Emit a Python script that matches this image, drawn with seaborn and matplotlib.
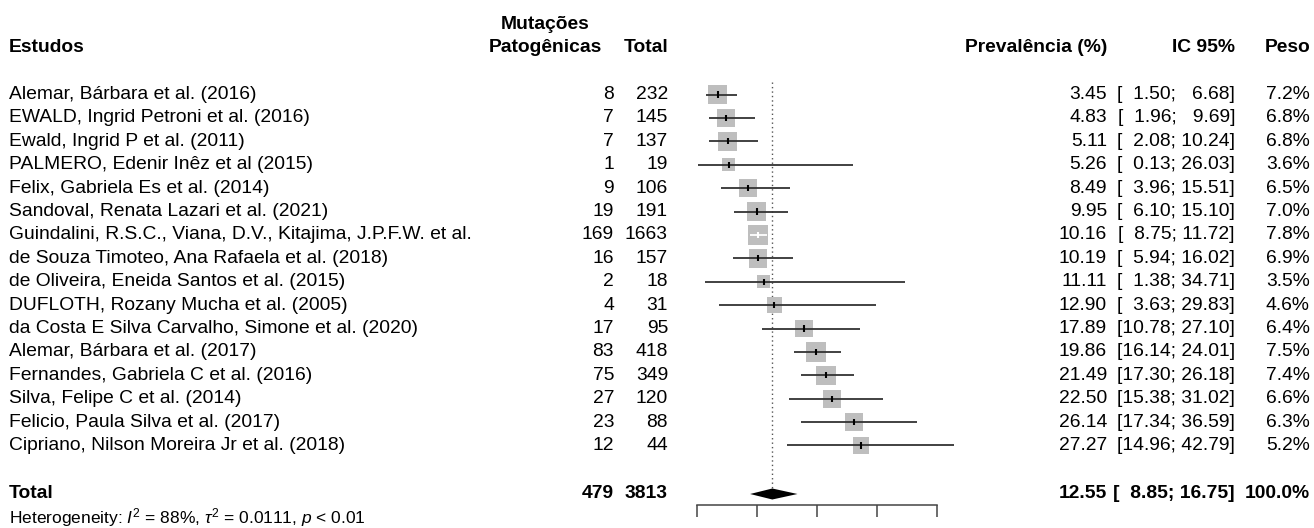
import matplotlib
matplotlib.use('Agg')
import matplotlib.pyplot as plt
import numpy as np
import seaborn as sns
from matplotlib.transforms import blended_transform_factory

# dados do forest plot
studies = [
    "Alemar, Bárbara et al. (2016)",
    "EWALD, Ingrid Petroni et al. (2016)",
    "Ewald, Ingrid P et al. (2011)",
    "PALMERO, Edenir Inêz et al (2015)",
    "Felix, Gabriela Es et al. (2014)",
    "Sandoval, Renata Lazari et al. (2021)",
    "Guindalini, R.S.C., Viana, D.V., Kitajima, J.P.F.W. et al.",
    "de Souza Timoteo, Ana Rafaela et al. (2018)",
    "de Oliveira, Eneida Santos et al. (2015)",
    "DUFLOTH, Rozany Mucha et al. (2005)",
    "da Costa E Silva Carvalho, Simone et al. (2020)",
    "Alemar, Bárbara et al. (2017)",
    "Fernandes, Gabriela C et al. (2016)",
    "Silva, Felipe C et al. (2014)",
    "Felicio, Paula Silva et al. (2017)",
    "Cipriano, Nilson Moreira Jr et al. (2018)",
]
events = [8, 7, 7, 1, 9, 19, 169, 16, 2, 4, 17, 83, 75, 27, 23, 12]
totals = [232, 145, 137, 19, 106, 191, 1663, 157, 18, 31, 95, 418, 349, 120, 88, 44]
prev = [3.45, 4.83, 5.11, 5.26, 8.49, 9.95, 10.16, 10.19, 11.11, 12.90,
        17.89, 19.86, 21.49, 22.50, 26.14, 27.27]
ci_low = [1.50, 1.96, 2.08, 0.13, 3.96, 6.10, 8.75, 5.94, 1.38, 3.63,
          10.78, 16.14, 17.30, 15.38, 17.34, 14.96]
ci_high = [6.68, 9.69, 10.24, 26.03, 15.51, 15.10, 11.72, 16.02, 34.71, 29.83,
           27.10, 24.01, 26.18, 31.02, 36.59, 42.79]
weights = [7.2, 6.8, 6.8, 3.6, 6.5, 7.0, 7.8, 6.9, 3.5, 4.6, 6.4, 7.5, 7.4, 6.6, 6.3, 5.2]

total_events = 479
total_n = 3813
pooled = 12.55
pooled_low = 8.85
pooled_high = 16.75
x_ticks = [0, 10, 20, 30, 40]
het_text = r"Heterogeneity: $I^2$ = 88%, $\tau^2$ = 0.0111, $p$ < 0.01"

# layout em pixels
W, H = 1314, 528
X0 = 697.0      # pixel do valor 0
PX_PER = 6.0    # pixels por unidade (%)
ROW0 = 94.5     # pixel do primeiro estudo
ROW_H = 23.4
FS = 13.9
SQ = 26.06      # area do quadrado (pt^2) por % de peso


def ypos(px):
    return (px - ROW0) / ROW_H


def fmt_num(v, width):
    s = "%*.2f" % (width, v)
    n = len(s) - len(s.lstrip())
    return "  " * n + s.lstrip()


def fmt_ci(lo, hi):
    return "[%s; %s]" % (fmt_num(lo, 5), fmt_num(hi, 5))


sns.set_theme(style="white")
plt.rcParams['font.family'] = ['Liberation Sans', 'DejaVu Sans']
plt.rcParams['mathtext.fontset'] = 'custom'
plt.rcParams['mathtext.rm'] = 'Liberation Sans'
plt.rcParams['mathtext.it'] = 'Liberation Sans:italic'
plt.rcParams['mathtext.bf'] = 'Liberation Sans:bold'

fig = plt.figure(figsize=(W / 100, H / 100), dpi=100)
ax = fig.add_axes([0, 0, 1, 1])

rows = np.arange(len(studies))
prev_a = np.array(prev)
lo_a = np.array(ci_low)
hi_a = np.array(ci_high)
w_a = np.array(weights)

# CI dentro do quadrado -> branco
half_sq = np.sqrt(SQ * w_a) * (100 / 72) / PX_PER / 2
inside = (lo_a >= prev_a - half_sq) & (hi_a <= prev_a + half_sq)
line_cols = np.where(inside, 'white', '#333333')

# quadrados
sns.scatterplot(x=prev_a, y=rows, size=w_a, sizes=(SQ * w_a.min(), SQ * w_a.max()),
                marker='s', color='#bebebe', linewidth=0, legend=False, ax=ax, zorder=2)
ax.hlines(rows, lo_a, hi_a, colors=line_cols, linewidth=1.3, zorder=3)
ax.vlines(prev_a, rows - 0.13, rows + 0.13, colors=np.where(inside, 'white', 'black'),
          linewidth=1.5, zorder=4)

# linha do efeito combinado e diamante
total_row = ypos(494)
d_half = 5.5 / ROW_H
ax.vlines(pooled, ypos(82), total_row - d_half, colors='#555555', linewidth=1,
          linestyles=(0, (1, 2.2)), zorder=1)
ax.fill([pooled_low, pooled, pooled_high, pooled],
        [total_row, total_row - d_half, total_row, total_row + d_half],
        color='black', linewidth=0, zorder=3)

ax.set_xlim(-X0 / PX_PER, (W - X0) / PX_PER)
ax.set_ylim(H / ROW_H - ROW0 / ROW_H, -ROW0 / ROW_H)
ax.set_xlabel('')
ax.set_ylabel('')

# eixo x
for s in ['top', 'left', 'right']:
    ax.spines[s].set_visible(False)
ax.spines['bottom'].set_position(('data', ypos(505)))
ax.spines['bottom'].set_bounds(x_ticks[0], x_ticks[-1])
ax.spines['bottom'].set_color('#444444')
ax.spines['bottom'].set_linewidth(1.1)
ax.set_xticks(x_ticks)
ax.set_xticklabels([])
ax.set_yticks([])
ax.tick_params(axis='x', bottom=True, direction='out', length=8.6, width=1.1, color='#444444')

# textos
tr = blended_transform_factory(fig.transFigure, ax.transData)


def col_text(px, y, s, ha, bold=False, fs=FS):
    ax.text(px / W, y, s, transform=tr, ha=ha, va='center', fontsize=fs,
            fontweight='bold' if bold else 'normal', color='black')


hy = ypos(47)
col_text(9, hy, "Estudos", 'left', True)
col_text(545, ypos(24), "Mutações", 'center', True)
col_text(545, hy, "Patogênicas", 'center', True)
col_text(668, hy, "Total", 'right', True)
col_text(1107, hy, "Prevalência (%)", 'right', True)
col_text(1235, hy, "IC 95%", 'right', True)
col_text(1310, hy, "Peso", 'right', True)

for i in range(len(studies)):
    col_text(9, i, studies[i], 'left')
    col_text(614, i, str(events[i]), 'right')
    col_text(668, i, str(totals[i]), 'right')
    col_text(1107, i, "%.2f" % prev[i], 'right')
    col_text(1235, i, fmt_ci(ci_low[i], ci_high[i]), 'right')
    col_text(1310, i, "%.1f%%" % weights[i], 'right')

col_text(9, total_row, "Total", 'left', True)
col_text(614, total_row, str(total_events), 'right', True)
col_text(668, total_row, str(total_n), 'right', True)
col_text(1107, total_row, "%.2f" % pooled, 'right', True)
col_text(1235, total_row, fmt_ci(pooled_low, pooled_high), 'right', True)
col_text(1310, total_row, "100.0%", 'right', True)
col_text(9, ypos(518), het_text, 'left', fs=12.5)

fig.savefig('out.png', dpi=100)
